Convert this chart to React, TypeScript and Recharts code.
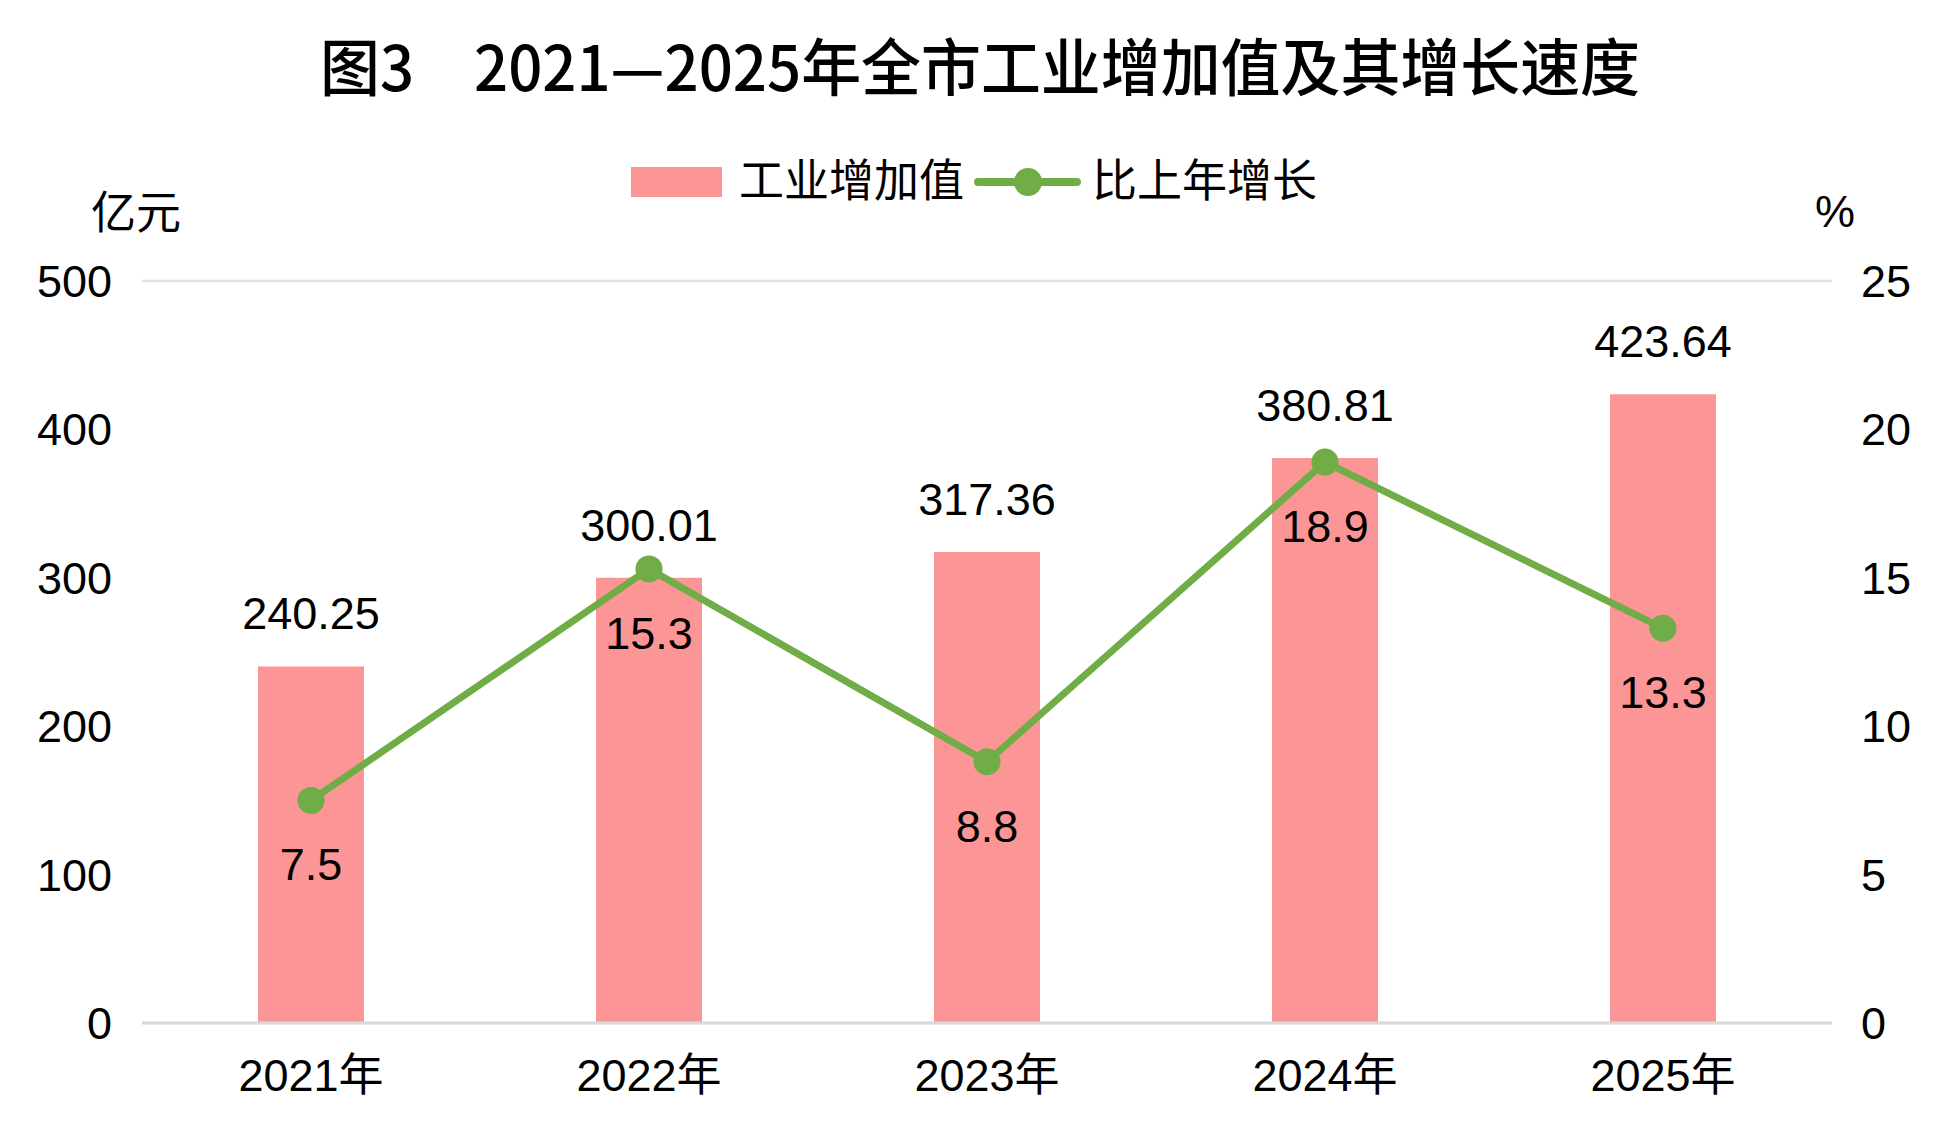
import React from "react"
import { ComposedChart, Bar, Line, XAxis, YAxis, CartesianGrid, LabelList } from "recharts"

const years = ["2021年", "2022年", "2023年", "2024年", "2025年"]
const addedValue = [240.25, 300.01, 317.36, 380.81, 423.64]
const growth = [7.5, 15.3, 8.8, 18.9, 13.3]
const leftTicks = [0, 100, 200, 300, 400, 500]
const rightTicks = [0, 5, 10, 15, 20, 25]

const data = years.map((year, i) => ({ year, value: addedValue[i], growth: growth[i] }))

const BAR_COLOR = "#FC9595"
const LINE_COLOR = "#70AD47"
const FONT = '"Liberation Sans", Arial, "Noto Sans CJK SC", sans-serif'

export default function App() {
  return (
    <div style={{ position: "absolute", left: 0, top: 0, width: 1949, height: 1144, background: "#fff", fontFamily: FONT }}>
      <ComposedChart
        width={1949}
        height={1144}
        data={data}
        margin={{ top: 281, right: 0, left: 0, bottom: 91 }}
      >
        <CartesianGrid vertical={false} stroke="#E3E3E3" strokeWidth={2.5} />
        <XAxis
          dataKey="year"
          height={30}
          axisLine={{ stroke: "#D9D9D9", strokeWidth: 3 }}
          tickLine={false}
          tickSize={0}
          tickMargin={36}
          tick={{ fontSize: 45, fill: "#000" }}
        />
        <YAxis
          yAxisId="left"
          width={142}
          domain={[0, 500]}
          ticks={leftTicks}
          axisLine={false}
          tickLine={false}
          tickSize={0}
          tickMargin={30}
          tick={{ fontSize: 45, fill: "#000" }}
        />
        <YAxis
          yAxisId="right"
          orientation="right"
          width={117}
          domain={[0, 25]}
          ticks={rightTicks}
          axisLine={false}
          tickLine={false}
          tickSize={0}
          tickMargin={29}
          tick={{ fontSize: 45, fill: "#000" }}
        />
        <Bar yAxisId="left" dataKey="value" fill={BAR_COLOR} barSize={106} isAnimationActive={false}>
          <LabelList dataKey="value" position="top" offset={37} fontSize={45} fill="#000" />
        </Bar>
        <Line
          yAxisId="right"
          dataKey="growth"
          stroke={LINE_COLOR}
          strokeWidth={7}
          dot={{ r: 13.5, fill: LINE_COLOR, stroke: "none" }}
          activeDot={false}
          isAnimationActive={false}
        >
          <LabelList dataKey="growth" position="bottom" offset={48} fontSize={45} fill="#000" />
        </Line>
      </ComposedChart>

      <svg width={1949} height={281} style={{ position: "absolute", left: 0, top: 0, pointerEvents: "none" }}>
        <text
          x={320}
          y={91}
          fontSize={62}
          fontWeight={500}
          textLength={1320}
          lengthAdjust="spacingAndGlyphs"
          fill="#000"
          style={{ fontFamily: '"Liberation Sans Narrow", "Noto Sans CJK SC", sans-serif' }}
        >
          图3　2021—2025年全市工业增加值及其增长速度
        </text>

        <rect x={631} y={167} width={91} height={30} fill={BAR_COLOR} />
        <text x={739} y={197} fontSize={45} fill="#000">工业增加值</text>
        <line x1={978} y1={182} x2={1077} y2={182} stroke={LINE_COLOR} strokeWidth={8} strokeLinecap="round" />
        <circle cx={1028} cy={182} r={14} fill={LINE_COLOR} />
        <text x={1092} y={197} fontSize={45} fill="#000">比上年增长</text>

        <text x={91} y={229} fontSize={45} fill="#000">亿元</text>
        <text x={1815} y={227} fontSize={45} fill="#000">%</text>
      </svg>
    </div>
  )
}
